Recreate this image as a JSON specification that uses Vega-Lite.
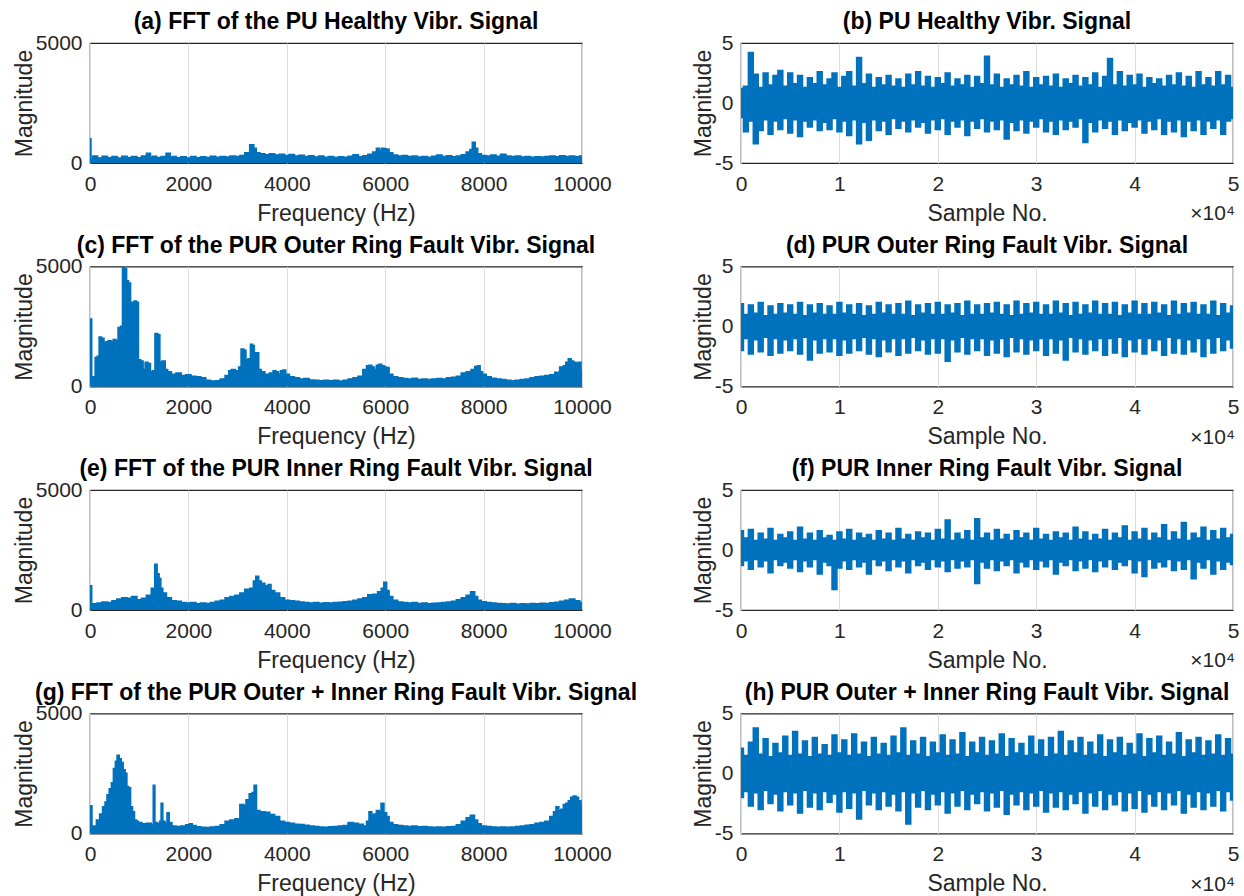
{
"$schema": "https://vega.github.io/schema/vega-lite/v6.json",
"background": "white",
"padding": {"left": 12, "top": 10, "right": 2, "bottom": 2},
"autosize": {"type": "pad"},
"columns": 2,
"spacing": {"row": 103.5, "column": 159},
"bounds": "flush",
"datasets": {
"ts": [
{"n":0,"bh":1.2,"bl":-1.2,"dh":1.9,"dl":-2.0,"fh":1.6,"fl":-1.3,"hh":2.1,"hl":-2.0},
{"n":500,"bh":1.4,"bl":-2.4,"dh":1.0,"dl":-1.0,"fh":1.0,"fl":-0.9,"hh":1.5,"hl":-1.5},
{"n":1000,"bh":4.2,"bl":-1.5,"dh":1.8,"dl":-2.3,"fh":1.7,"fl":-1.6,"hh":2.6,"hl":-2.7},
{"n":1500,"bh":2.4,"bl":-3.4,"dh":1.1,"dl":-1.1,"fh":0.8,"fl":-0.8,"hh":3.8,"hl":-1.6},
{"n":2000,"bh":1.3,"bl":-2.3,"dh":2.0,"dl":-2.1,"fh":1.4,"fl":-1.4,"hh":1.6,"hl":-3.0},
{"n":2500,"bh":2.5,"bl":-1.4,"dh":0.9,"dl":-0.9,"fh":0.9,"fl":-0.9,"hh":2.9,"hl":-1.4},
{"n":3000,"bh":1.5,"bl":-2.6,"dh":1.7,"dl":-2.4,"fh":1.8,"fl":-1.9,"hh":1.4,"hl":-2.5},
{"n":3500,"bh":2.3,"bl":-1.5,"dh":1.0,"dl":-1.0,"fh":0.8,"fl":-0.8,"hh":2.5,"hl":-1.7},
{"n":4000,"bh":2.7,"bl":-2.2,"dh":1.9,"dl":-2.2,"fh":1.3,"fl":-1.3,"hh":1.7,"hl":-3.1},
{"n":4500,"bh":1.4,"bl":-1.3,"dh":1.1,"dl":-1.1,"fh":1.0,"fl":-1.0,"hh":3.1,"hl":-1.5},
{"n":5000,"bh":2.5,"bl":-2.5,"dh":1.8,"dl":-2.0,"fh":1.5,"fl":-1.5,"hh":1.5,"hl":-2.6},
{"n":5500,"bh":1.6,"bl":-1.4,"dh":1.0,"dl":-1.0,"fh":0.8,"fl":-0.8,"hh":3.5,"hl":-1.6},
{"n":6000,"bh":2.3,"bl":-2.8,"dh":2.0,"dl":-2.3,"fh":1.9,"fl":-1.8,"hh":1.6,"hl":-3.3},
{"n":6500,"bh":1.3,"bl":-1.5,"dh":0.9,"dl":-0.9,"fh":0.9,"fl":-0.9,"hh":2.7,"hl":-1.4},
{"n":7000,"bh":2.1,"bl":-2.0,"dh":1.8,"dl":-2.8,"fh":1.4,"fl":-1.4,"hh":1.4,"hl":-2.8},
{"n":7500,"bh":1.6,"bl":-1.4,"dh":1.1,"dl":-1.1,"fh":0.8,"fl":-0.8,"hh":3.0,"hl":-1.6},
{"n":8000,"bh":2.6,"bl":-2.3,"dh":1.9,"dl":-2.2,"fh":1.6,"fl":-2.0,"hh":1.6,"hl":-3.0},
{"n":8500,"bh":1.5,"bl":-1.6,"dh":1.0,"dl":-1.0,"fh":1.0,"fl":-1.0,"hh":2.4,"hl":-1.5},
{"n":9000,"bh":2.0,"bl":-2.2,"dh":1.7,"dl":-2.1,"fh":1.2,"fl":-1.3,"hh":1.5,"hl":-2.4},
{"n":9500,"bh":2.5,"bl":-1.3,"dh":1.0,"dl":-1.0,"fh":0.8,"fl":-3.3,"hh":3.2,"hl":-1.7},
{"n":10000,"bh":1.3,"bl":-2.4,"dh":2.0,"dl":-2.4,"fh":1.5,"fl":-1.5,"hh":1.7,"hl":-3.2},
{"n":10500,"bh":2.2,"bl":-1.5,"dh":1.1,"dl":-1.1,"fh":0.9,"fl":-0.9,"hh":2.8,"hl":-1.5},
{"n":11000,"bh":2.6,"bl":-2.7,"dh":1.8,"dl":-2.2,"fh":1.7,"fl":-1.6,"hh":1.5,"hl":-2.9},
{"n":11500,"bh":1.4,"bl":-1.4,"dh":1.0,"dl":-1.0,"fh":0.8,"fl":-0.8,"hh":3.3,"hl":-1.6},
{"n":12000,"bh":3.8,"bl":-3.4,"dh":1.9,"dl":-2.0,"fh":1.4,"fl":-1.4,"hh":1.6,"hl":-3.8},
{"n":12500,"bh":1.6,"bl":-1.6,"dh":0.9,"dl":-0.9,"fh":1.0,"fl":-1.0,"hh":2.6,"hl":-1.4},
{"n":13000,"bh":2.4,"bl":-3.1,"dh":1.7,"dl":-2.3,"fh":1.3,"fl":-2.0,"hh":1.4,"hl":-2.6},
{"n":13500,"bh":1.3,"bl":-1.4,"dh":1.0,"dl":-1.0,"fh":0.8,"fl":-0.8,"hh":3.0,"hl":-1.6},
{"n":14000,"bh":2.1,"bl":-2.3,"dh":2.0,"dl":-2.5,"fh":1.6,"fl":-1.3,"hh":1.6,"hl":-3.0},
{"n":14500,"bh":1.5,"bl":-1.5,"dh":1.1,"dl":-1.1,"fh":0.9,"fl":-0.9,"hh":2.5,"hl":-1.5},
{"n":15000,"bh":2.3,"bl":-2.6,"dh":1.8,"dl":-2.1,"fh":1.4,"fl":-1.7,"hh":1.5,"hl":-2.7},
{"n":15500,"bh":1.4,"bl":-1.3,"dh":1.0,"dl":-1.0,"fh":0.8,"fl":-0.8,"hh":3.1,"hl":-1.7},
{"n":16000,"bh":2.0,"bl":-2.1,"dh":1.9,"dl":-2.4,"fh":1.8,"fl":-1.4,"hh":1.7,"hl":-3.1},
{"n":16500,"bh":1.3,"bl":-1.5,"dh":1.0,"dl":-1.0,"fh":0.9,"fl":-0.9,"hh":3.8,"hl":-1.5},
{"n":17000,"bh":2.4,"bl":-2.4,"dh":2.1,"dl":-2.2,"fh":1.3,"fl":-1.9,"hh":1.5,"hl":-4.2},
{"n":17500,"bh":1.5,"bl":-1.4,"dh":0.9,"dl":-0.9,"fh":0.8,"fl":-0.8,"hh":2.7,"hl":-1.6},
{"n":18000,"bh":2.6,"bl":-2.0,"dh":1.8,"dl":-2.0,"fh":1.5,"fl":-1.3,"hh":1.6,"hl":-2.8},
{"n":18500,"bh":1.4,"bl":-1.6,"dh":1.1,"dl":-1.1,"fh":1.0,"fl":-1.0,"hh":3.0,"hl":-1.4},
{"n":19000,"bh":2.2,"bl":-2.5,"dh":1.9,"dl":-2.3,"fh":1.4,"fl":-1.6,"hh":1.4,"hl":-3.0},
{"n":19500,"bh":1.3,"bl":-1.4,"dh":1.0,"dl":-1.0,"fh":0.8,"fl":-0.8,"hh":2.6,"hl":-1.7},
{"n":20000,"bh":2.1,"bl":-2.2,"dh":2.0,"dl":-2.2,"fh":1.7,"fl":-1.4,"hh":1.7,"hl":-2.6},
{"n":20500,"bh":1.6,"bl":-1.3,"dh":1.0,"dl":-1.0,"fh":0.9,"fl":-0.9,"hh":3.2,"hl":-1.5},
{"n":21000,"bh":2.5,"bl":-2.6,"dh":1.8,"dl":-2.9,"fh":2.5,"fl":-1.8,"hh":1.5,"hl":-3.3},
{"n":21500,"bh":1.4,"bl":-1.5,"dh":1.1,"dl":-1.1,"fh":0.8,"fl":-0.8,"hh":2.8,"hl":-1.6},
{"n":22000,"bh":2.0,"bl":-2.0,"dh":1.9,"dl":-2.1,"fh":1.4,"fl":-1.5,"hh":1.6,"hl":-2.7},
{"n":22500,"bh":1.5,"bl":-1.4,"dh":0.9,"dl":-0.9,"fh":0.9,"fl":-0.9,"hh":3.4,"hl":-1.4},
{"n":23000,"bh":2.3,"bl":-2.7,"dh":2.1,"dl":-2.3,"fh":1.6,"fl":-1.4,"hh":1.4,"hl":-3.0},
{"n":23500,"bh":1.3,"bl":-1.5,"dh":1.0,"dl":-1.0,"fh":0.8,"fl":-0.8,"hh":2.6,"hl":-1.7},
{"n":24000,"bh":2.2,"bl":-2.1,"dh":1.8,"dl":-2.0,"fh":2.6,"fl":-2.8,"hh":1.7,"hl":-2.5},
{"n":24500,"bh":1.6,"bl":-1.3,"dh":1.0,"dl":-1.0,"fh":1.0,"fl":-1.0,"hh":3.0,"hl":-1.5},
{"n":25000,"bh":3.9,"bl":-2.4,"dh":1.9,"dl":-2.4,"fh":1.4,"fl":-1.5,"hh":1.5,"hl":-3.1},
{"n":25500,"bh":1.5,"bl":-1.5,"dh":1.1,"dl":-1.1,"fh":0.8,"fl":-0.8,"hh":2.7,"hl":-1.6},
{"n":26000,"bh":2.4,"bl":-2.2,"dh":2.0,"dl":-2.2,"fh":1.7,"fl":-1.7,"hh":1.6,"hl":-2.8},
{"n":26500,"bh":1.3,"bl":-1.4,"dh":1.0,"dl":-1.0,"fh":0.9,"fl":-0.9,"hh":3.3,"hl":-1.4},
{"n":27000,"bh":2.0,"bl":-3.0,"dh":1.8,"dl":-2.5,"fh":1.3,"fl":-1.3,"hh":1.4,"hl":-3.4},
{"n":27500,"bh":1.5,"bl":-1.6,"dh":0.9,"dl":-0.9,"fh":0.8,"fl":-0.8,"hh":2.9,"hl":-1.7},
{"n":28000,"bh":2.3,"bl":-2.3,"dh":2.1,"dl":-2.1,"fh":1.6,"fl":-1.9,"hh":1.7,"hl":-2.6},
{"n":28500,"bh":1.4,"bl":-1.4,"dh":1.0,"dl":-1.0,"fh":1.0,"fl":-1.0,"hh":2.5,"hl":-1.5},
{"n":29000,"bh":2.6,"bl":-2.5,"dh":1.9,"dl":-2.3,"fh":1.4,"fl":-1.4,"hh":1.5,"hl":-3.0},
{"n":29500,"bh":1.3,"bl":-1.5,"dh":1.1,"dl":-1.1,"fh":0.8,"fl":-0.8,"hh":3.1,"hl":-1.6},
{"n":30000,"bh":2.1,"bl":-2.0,"dh":2.0,"dl":-2.0,"fh":1.8,"fl":-1.6,"hh":1.6,"hl":-2.7},
{"n":30500,"bh":1.5,"bl":-1.3,"dh":1.0,"dl":-1.0,"fh":0.9,"fl":-0.9,"hh":2.8,"hl":-1.4},
{"n":31000,"bh":2.2,"bl":-2.4,"dh":1.8,"dl":-2.4,"fh":1.3,"fl":-1.4,"hh":1.4,"hl":-3.2},
{"n":31500,"bh":1.4,"bl":-1.5,"dh":1.0,"dl":-1.0,"fh":0.8,"fl":-0.8,"hh":3.0,"hl":-1.6},
{"n":32000,"bh":2.4,"bl":-2.6,"dh":2.1,"dl":-2.2,"fh":1.5,"fl":-2.0,"hh":1.6,"hl":-2.8},
{"n":32500,"bh":1.3,"bl":-1.4,"dh":1.1,"dl":-1.1,"fh":1.0,"fl":-1.0,"hh":3.5,"hl":-1.5},
{"n":33000,"bh":2.0,"bl":-2.2,"dh":1.9,"dl":-2.8,"fh":1.4,"fl":-1.3,"hh":1.5,"hl":-3.0},
{"n":33500,"bh":1.6,"bl":-1.5,"dh":0.9,"dl":-0.9,"fh":0.8,"fl":-0.8,"hh":2.7,"hl":-1.7},
{"n":34000,"bh":2.3,"bl":-2.0,"dh":2.0,"dl":-2.1,"fh":1.9,"fl":-1.7,"hh":1.7,"hl":-2.5},
{"n":34500,"bh":1.4,"bl":-1.3,"dh":1.0,"dl":-1.0,"fh":0.9,"fl":-0.9,"hh":3.0,"hl":-1.5},
{"n":35000,"bh":2.1,"bl":-3.3,"dh":1.8,"dl":-2.3,"fh":1.5,"fl":-1.5,"hh":1.5,"hl":-3.3},
{"n":35500,"bh":1.5,"bl":-1.6,"dh":1.1,"dl":-1.1,"fh":0.8,"fl":-0.8,"hh":2.6,"hl":-1.6},
{"n":36000,"bh":2.5,"bl":-2.4,"dh":2.1,"dl":-2.0,"fh":1.3,"fl":-1.8,"hh":1.6,"hl":-2.7},
{"n":36500,"bh":1.3,"bl":-1.4,"dh":1.0,"dl":-1.0,"fh":0.9,"fl":-0.9,"hh":3.2,"hl":-1.4},
{"n":37000,"bh":2.2,"bl":-2.1,"dh":1.9,"dl":-2.4,"fh":1.7,"fl":-1.4,"hh":1.4,"hl":-3.0},
{"n":37500,"bh":3.7,"bl":-1.5,"dh":1.0,"dl":-1.0,"fh":0.8,"fl":-0.8,"hh":2.8,"hl":-1.7},
{"n":38000,"bh":1.5,"bl":-2.6,"dh":2.0,"dl":-2.2,"fh":1.4,"fl":-1.6,"hh":1.7,"hl":-2.6},
{"n":38500,"bh":2.6,"bl":-1.4,"dh":0.9,"dl":-0.9,"fh":1.0,"fl":-1.0,"hh":3.0,"hl":-1.5},
{"n":39000,"bh":1.4,"bl":-2.3,"dh":1.8,"dl":-2.5,"fh":2.0,"fl":-1.3,"hh":1.5,"hl":-3.1},
{"n":39500,"bh":2.3,"bl":-1.6,"dh":1.1,"dl":-1.1,"fh":0.8,"fl":-0.8,"hh":2.5,"hl":-1.6},
{"n":40000,"bh":1.5,"bl":-2.0,"dh":2.1,"dl":-2.1,"fh":1.5,"fl":-1.9,"hh":1.6,"hl":-2.9},
{"n":40500,"bh":2.4,"bl":-1.4,"dh":1.0,"dl":-1.0,"fh":0.9,"fl":-0.9,"hh":3.3,"hl":-1.4},
{"n":41000,"bh":1.3,"bl":-2.5,"dh":1.9,"dl":-2.3,"fh":1.8,"fl":-2.2,"hh":1.4,"hl":-3.2},
{"n":41500,"bh":2.1,"bl":-1.5,"dh":1.0,"dl":-1.0,"fh":0.8,"fl":-0.8,"hh":2.9,"hl":-1.7},
{"n":42000,"bh":1.6,"bl":-2.2,"dh":2.0,"dl":-2.0,"fh":1.4,"fl":-1.5,"hh":1.7,"hl":-2.7},
{"n":42500,"bh":2.0,"bl":-1.3,"dh":1.1,"dl":-1.1,"fh":1.0,"fl":-1.0,"hh":3.1,"hl":-1.5},
{"n":43000,"bh":1.4,"bl":-2.6,"dh":1.8,"dl":-2.4,"fh":2.1,"fl":-1.4,"hh":1.5,"hl":-3.0},
{"n":43500,"bh":2.3,"bl":-1.5,"dh":0.9,"dl":-0.9,"fh":0.8,"fl":-0.8,"hh":2.6,"hl":-1.6},
{"n":44000,"bh":1.5,"bl":-2.4,"dh":2.1,"dl":-2.2,"fh":1.5,"fl":-1.7,"hh":1.6,"hl":-2.6},
{"n":44500,"bh":2.5,"bl":-1.4,"dh":1.0,"dl":-1.0,"fh":0.9,"fl":-0.9,"hh":3.4,"hl":-1.4},
{"n":45000,"bh":1.4,"bl":-2.8,"dh":1.9,"dl":-2.3,"fh":2.3,"fl":-1.6,"hh":1.4,"hl":-3.3},
{"n":45500,"bh":2.2,"bl":-1.5,"dh":1.1,"dl":-1.1,"fh":0.8,"fl":-0.8,"hh":2.8,"hl":-1.7},
{"n":46000,"bh":1.3,"bl":-2.3,"dh":2.0,"dl":-2.1,"fh":1.4,"fl":-2.4,"hh":1.7,"hl":-2.8},
{"n":46500,"bh":2.6,"bl":-1.4,"dh":1.0,"dl":-1.0,"fh":1.0,"fl":-1.0,"hh":3.0,"hl":-1.5},
{"n":47000,"bh":1.5,"bl":-2.6,"dh":1.8,"dl":-2.5,"fh":1.9,"fl":-1.5,"hh":1.5,"hl":-3.0},
{"n":47500,"bh":2.1,"bl":-1.5,"dh":1.0,"dl":-1.0,"fh":0.8,"fl":-0.8,"hh":2.7,"hl":-1.6},
{"n":48000,"bh":1.4,"bl":-2.1,"dh":2.1,"dl":-2.2,"fh":1.6,"fl":-2.0,"hh":1.6,"hl":-2.7},
{"n":48500,"bh":2.6,"bl":-1.4,"dh":0.9,"dl":-0.9,"fh":0.9,"fl":-0.9,"hh":3.2,"hl":-1.4},
{"n":49000,"bh":1.5,"bl":-2.6,"dh":1.9,"dl":-2.0,"fh":1.8,"fl":-1.6,"hh":1.5,"hl":-3.1},
{"n":49500,"bh":2.3,"bl":-1.5,"dh":1.1,"dl":-1.1,"fh":1.0,"fl":-1.0,"hh":2.9,"hl":-1.5},
{"n":50000,"bh":1.3,"bl":-1.3,"dh":1.7,"dl":-1.8,"fh":1.3,"fl":-1.2,"hh":1.6,"hl":-2.2}
],
"fa": [
{"f":0,"m":1000},{"f":10,"m":1000},{"f":20,"m":150},{"f":100,"m":280},{"f":200,"m":200},{"f":300,"m":270},{"f":400,"m":210},{"f":500,"m":260},{"f":600,"m":200},{"f":700,"m":270},{"f":800,"m":220},{"f":900,"m":260},{"f":1000,"m":210},{"f":1100,"m":280},{"f":1200,"m":400},{"f":1250,"m":230},{"f":1300,"m":270},{"f":1400,"m":220},{"f":1500,"m":260},{"f":1600,"m":400},{"f":1650,"m":230},{"f":1700,"m":260},{"f":1800,"m":210},{"f":1900,"m":250},{"f":2000,"m":200},{"f":2100,"m":260},{"f":2200,"m":210},{"f":2300,"m":250},{"f":2400,"m":220},{"f":2500,"m":270},{"f":2600,"m":230},{"f":2700,"m":260},{"f":2800,"m":240},{"f":2900,"m":280},{"f":3000,"m":260},{"f":3100,"m":300},{"f":3200,"m":420},{"f":3300,"m":750},{"f":3350,"m":600},{"f":3400,"m":420},{"f":3500,"m":380},{"f":3600,"m":330},{"f":3700,"m":370},{"f":3800,"m":320},{"f":3900,"m":350},{"f":4000,"m":300},{"f":4100,"m":340},{"f":4200,"m":280},{"f":4300,"m":310},{"f":4400,"m":260},{"f":4500,"m":290},{"f":4600,"m":240},{"f":4700,"m":280},{"f":4800,"m":230},{"f":4900,"m":260},{"f":5000,"m":220},{"f":5100,"m":250},{"f":5200,"m":230},{"f":5300,"m":270},{"f":5400,"m":330},{"f":5500,"m":250},{"f":5600,"m":290},{"f":5700,"m":350},{"f":5800,"m":450},{"f":5850,"m":600},{"f":5900,"m":520},{"f":5950,"m":600},{"f":6000,"m":580},{"f":6050,"m":560},{"f":6100,"m":420},{"f":6200,"m":320},{"f":6300,"m":280},{"f":6400,"m":300},{"f":6500,"m":260},{"f":6600,"m":280},{"f":6700,"m":240},{"f":6800,"m":260},{"f":6900,"m":230},{"f":7000,"m":270},{"f":7100,"m":320},{"f":7200,"m":260},{"f":7300,"m":290},{"f":7400,"m":250},{"f":7500,"m":280},{"f":7600,"m":330},{"f":7700,"m":450},{"f":7750,"m":550},{"f":7800,"m":850},{"f":7850,"m":600},{"f":7900,"m":380},{"f":8000,"m":300},{"f":8100,"m":280},{"f":8200,"m":320},{"f":8300,"m":270},{"f":8400,"m":350},{"f":8500,"m":280},{"f":8600,"m":260},{"f":8700,"m":280},{"f":8800,"m":240},{"f":8900,"m":260},{"f":9000,"m":230},{"f":9100,"m":250},{"f":9200,"m":240},{"f":9300,"m":260},{"f":9400,"m":280},{"f":9500,"m":250},{"f":9600,"m":290},{"f":9700,"m":260},{"f":9800,"m":280},{"f":9900,"m":250},{"f":10000,"m":280}
],
"fc": [
{"f":0,"m":2800},{"f":20,"m":2800},{"f":40,"m":400},{"f":100,"m":350},{"f":120,"m":1200},{"f":180,"m":1250},{"f":200,"m":2050},{"f":260,"m":2000},{"f":300,"m":1800},{"f":350,"m":1850},{"f":400,"m":1900},{"f":450,"m":1850},{"f":500,"m":1950},{"f":550,"m":1900},{"f":600,"m":2450},{"f":650,"m":2500},{"f":680,"m":4950},{"f":720,"m":4900},{"f":760,"m":4400},{"f":800,"m":4300},{"f":840,"m":3500},{"f":880,"m":3450},{"f":920,"m":3550},{"f":960,"m":3500},{"f":1000,"m":1100},{"f":1050,"m":1050},{"f":1100,"m":700},{"f":1150,"m":1000},{"f":1200,"m":950},{"f":1250,"m":600},{"f":1300,"m":650},{"f":1350,"m":2200},{"f":1400,"m":2150},{"f":1430,"m":1000},{"f":1500,"m":1050},{"f":1550,"m":700},{"f":1600,"m":600},{"f":1700,"m":500},{"f":1800,"m":550},{"f":1900,"m":450},{"f":2000,"m":480},{"f":2100,"m":420},{"f":2200,"m":400},{"f":2300,"m":350},{"f":2400,"m":250},{"f":2500,"m":220},{"f":2600,"m":230},{"f":2700,"m":300},{"f":2800,"m":450},{"f":2850,"m":650},{"f":2900,"m":700},{"f":3000,"m":650},{"f":3050,"m":800},{"f":3100,"m":1550},{"f":3150,"m":1500},{"f":3180,"m":1100},{"f":3250,"m":1150},{"f":3280,"m":1750},{"f":3320,"m":1700},{"f":3350,"m":1350},{"f":3400,"m":1400},{"f":3450,"m":700},{"f":3500,"m":600},{"f":3600,"m":500},{"f":3700,"m":550},{"f":3750,"m":650},{"f":3800,"m":600},{"f":3850,"m":500},{"f":3900,"m":650},{"f":3950,"m":680},{"f":4000,"m":500},{"f":4100,"m":400},{"f":4200,"m":350},{"f":4300,"m":300},{"f":4400,"m":320},{"f":4500,"m":260},{"f":4600,"m":250},{"f":4700,"m":230},{"f":4800,"m":250},{"f":4900,"m":230},{"f":5000,"m":250},{"f":5100,"m":220},{"f":5200,"m":250},{"f":5300,"m":300},{"f":5400,"m":350},{"f":5500,"m":420},{"f":5600,"m":700},{"f":5650,"m":850},{"f":5700,"m":880},{"f":5750,"m":800},{"f":5800,"m":700},{"f":5850,"m":880},{"f":5900,"m":920},{"f":5950,"m":850},{"f":6000,"m":800},{"f":6050,"m":780},{"f":6100,"m":500},{"f":6200,"m":400},{"f":6300,"m":350},{"f":6400,"m":320},{"f":6500,"m":300},{"f":6600,"m":330},{"f":6700,"m":280},{"f":6800,"m":300},{"f":6900,"m":280},{"f":7000,"m":300},{"f":7100,"m":320},{"f":7200,"m":300},{"f":7300,"m":350},{"f":7400,"m":380},{"f":7500,"m":420},{"f":7600,"m":550},{"f":7700,"m":600},{"f":7800,"m":700},{"f":7850,"m":820},{"f":7900,"m":850},{"f":7950,"m":600},{"f":8000,"m":500},{"f":8100,"m":400},{"f":8200,"m":330},{"f":8300,"m":300},{"f":8400,"m":280},{"f":8500,"m":250},{"f":8600,"m":230},{"f":8700,"m":250},{"f":8800,"m":280},{"f":8900,"m":300},{"f":9000,"m":350},{"f":9100,"m":400},{"f":9200,"m":420},{"f":9300,"m":450},{"f":9400,"m":480},{"f":9500,"m":580},{"f":9600,"m":800},{"f":9650,"m":850},{"f":9700,"m":1000},{"f":9750,"m":1150},{"f":9800,"m":1050},{"f":9850,"m":1000},{"f":9900,"m":950},{"f":9950,"m":1000},{"f":10000,"m":650}
],
"fe": [
{"f":0,"m":1000},{"f":20,"m":1000},{"f":40,"m":200},{"f":100,"m":250},{"f":200,"m":280},{"f":300,"m":320},{"f":400,"m":300},{"f":500,"m":380},{"f":600,"m":450},{"f":700,"m":500},{"f":800,"m":480},{"f":900,"m":550},{"f":1000,"m":420},{"f":1100,"m":480},{"f":1200,"m":600},{"f":1300,"m":900},{"f":1340,"m":1900},{"f":1380,"m":1500},{"f":1420,"m":1300},{"f":1450,"m":900},{"f":1500,"m":700},{"f":1600,"m":500},{"f":1700,"m":380},{"f":1800,"m":350},{"f":1900,"m":300},{"f":2000,"m":280},{"f":2100,"m":300},{"f":2200,"m":250},{"f":2300,"m":280},{"f":2400,"m":260},{"f":2500,"m":300},{"f":2600,"m":350},{"f":2700,"m":400},{"f":2800,"m":500},{"f":2900,"m":550},{"f":3000,"m":600},{"f":3100,"m":700},{"f":3200,"m":850},{"f":3300,"m":900},{"f":3350,"m":1200},{"f":3400,"m":1400},{"f":3450,"m":1200},{"f":3500,"m":1100},{"f":3600,"m":1000},{"f":3650,"m":1050},{"f":3700,"m":800},{"f":3800,"m":700},{"f":3900,"m":500},{"f":4000,"m":400},{"f":4100,"m":380},{"f":4200,"m":350},{"f":4300,"m":320},{"f":4400,"m":300},{"f":4500,"m":280},{"f":4600,"m":300},{"f":4700,"m":270},{"f":4800,"m":290},{"f":4900,"m":280},{"f":5000,"m":300},{"f":5100,"m":310},{"f":5200,"m":330},{"f":5300,"m":350},{"f":5400,"m":400},{"f":5500,"m":450},{"f":5600,"m":500},{"f":5700,"m":620},{"f":5800,"m":650},{"f":5900,"m":750},{"f":5950,"m":900},{"f":6000,"m":1150},{"f":6050,"m":800},{"f":6100,"m":550},{"f":6200,"m":400},{"f":6300,"m":320},{"f":6400,"m":300},{"f":6500,"m":280},{"f":6600,"m":300},{"f":6700,"m":260},{"f":6800,"m":280},{"f":6900,"m":250},{"f":7000,"m":270},{"f":7100,"m":280},{"f":7200,"m":300},{"f":7300,"m":320},{"f":7400,"m":350},{"f":7500,"m":420},{"f":7600,"m":500},{"f":7700,"m":600},{"f":7780,"m":750},{"f":7850,"m":550},{"f":7900,"m":400},{"f":8000,"m":330},{"f":8100,"m":300},{"f":8200,"m":280},{"f":8300,"m":260},{"f":8400,"m":250},{"f":8500,"m":240},{"f":8600,"m":260},{"f":8700,"m":230},{"f":8800,"m":250},{"f":8900,"m":240},{"f":9000,"m":260},{"f":9100,"m":250},{"f":9200,"m":270},{"f":9300,"m":260},{"f":9400,"m":290},{"f":9500,"m":310},{"f":9600,"m":350},{"f":9700,"m":400},{"f":9800,"m":450},{"f":9900,"m":380},{"f":10000,"m":300}
],
"fg": [
{"f":0,"m":1150},{"f":20,"m":1150},{"f":50,"m":250},{"f":100,"m":300},{"f":170,"m":550},{"f":230,"m":800},{"f":290,"m":1100},{"f":330,"m":1300},{"f":370,"m":1600},{"f":420,"m":1850},{"f":460,"m":2100},{"f":500,"m":2700},{"f":540,"m":3000},{"f":570,"m":3250},{"f":610,"m":3100},{"f":650,"m":2950},{"f":690,"m":2650},{"f":730,"m":2500},{"f":760,"m":1950},{"f":800,"m":1900},{"f":840,"m":1100},{"f":880,"m":900},{"f":920,"m":550},{"f":960,"m":500},{"f":1000,"m":450},{"f":1100,"m":400},{"f":1200,"m":420},{"f":1280,"m":350},{"f":1300,"m":2000},{"f":1330,"m":450},{"f":1400,"m":400},{"f":1440,"m":500},{"f":1460,"m":1250},{"f":1490,"m":500},{"f":1550,"m":420},{"f":1590,"m":850},{"f":1620,"m":450},{"f":1700,"m":300},{"f":1800,"m":280},{"f":1900,"m":300},{"f":2000,"m":350},{"f":2050,"m":400},{"f":2100,"m":320},{"f":2200,"m":270},{"f":2300,"m":250},{"f":2400,"m":240},{"f":2500,"m":260},{"f":2600,"m":280},{"f":2700,"m":350},{"f":2800,"m":500},{"f":2900,"m":550},{"f":3000,"m":600},{"f":3100,"m":1200},{"f":3150,"m":1150},{"f":3200,"m":1400},{"f":3280,"m":1650},{"f":3320,"m":1700},{"f":3360,"m":2000},{"f":3400,"m":950},{"f":3500,"m":900},{"f":3600,"m":880},{"f":3700,"m":780},{"f":3800,"m":700},{"f":3900,"m":500},{"f":4000,"m":450},{"f":4100,"m":420},{"f":4200,"m":380},{"f":4300,"m":360},{"f":4400,"m":330},{"f":4500,"m":300},{"f":4600,"m":280},{"f":4700,"m":260},{"f":4800,"m":250},{"f":4900,"m":270},{"f":5000,"m":280},{"f":5100,"m":300},{"f":5200,"m":320},{"f":5300,"m":450},{"f":5400,"m":420},{"f":5500,"m":380},{"f":5600,"m":300},{"f":5650,"m":500},{"f":5700,"m":900},{"f":5750,"m":750},{"f":5800,"m":800},{"f":5850,"m":950},{"f":5900,"m":900},{"f":5940,"m":1250},{"f":6000,"m":850},{"f":6050,"m":700},{"f":6100,"m":450},{"f":6200,"m":350},{"f":6300,"m":320},{"f":6400,"m":300},{"f":6500,"m":280},{"f":6600,"m":300},{"f":6700,"m":270},{"f":6800,"m":280},{"f":6900,"m":260},{"f":7000,"m":250},{"f":7100,"m":260},{"f":7200,"m":250},{"f":7300,"m":270},{"f":7400,"m":280},{"f":7500,"m":350},{"f":7600,"m":500},{"f":7700,"m":650},{"f":7770,"m":750},{"f":7850,"m":550},{"f":7900,"m":400},{"f":8000,"m":300},{"f":8100,"m":280},{"f":8200,"m":260},{"f":8300,"m":250},{"f":8400,"m":260},{"f":8500,"m":250},{"f":8600,"m":260},{"f":8700,"m":280},{"f":8800,"m":300},{"f":8900,"m":330},{"f":9000,"m":350},{"f":9100,"m":420},{"f":9200,"m":450},{"f":9300,"m":500},{"f":9400,"m":700},{"f":9450,"m":900},{"f":9500,"m":1100},{"f":9550,"m":950},{"f":9600,"m":1000},{"f":9650,"m":1200},{"f":9700,"m":1250},{"f":9750,"m":1350},{"f":9800,"m":1500},{"f":9850,"m":1550},{"f":9900,"m":1500},{"f":9950,"m":1350},{"f":10000,"m":1100}
]
},
"concat": [
{"width":492,"height":120,"title":"(a) FFT of the PU Healthy Vibr. Signal","data":{"name":"fa"},
 "mark":{"type":"area","interpolate":"step","color":"#0072BD","stroke":"#0072BD","strokeWidth":2,"clip":true},
 "encoding":{"x":{"field":"f","type":"quantitative","scale":{"domain":[0,10000],"nice":false},"axis":{"title":"Frequency (Hz)","values":[0,2000,4000,6000,8000,10000],"labelExpr":"'' + datum.value","grid":true}},
  "y":{"field":"m","type":"quantitative","scale":{"domain":[0,5000],"nice":false},"axis":{"title":"Magnitude","values":[0,5000],"labelExpr":"'' + datum.value"}}}},
{"width":492,"height":120,"title":"(b) PU Healthy Vibr. Signal","layer":[
 {"data":{"name":"ts"},"mark":{"type":"area","interpolate":"step","color":"#0072BD","stroke":"#0072BD","strokeWidth":1.5,"clip":true},
  "encoding":{"x":{"field":"n","type":"quantitative","scale":{"domain":[0,50000],"nice":false},"axis":{"title":"Sample No.","values":[0,10000,20000,30000,40000,50000],"labelExpr":"'' + (datum.value/10000)","grid":true}},
   "y":{"field":"bh","type":"quantitative","scale":{"domain":[-5,5],"nice":false},"axis":{"title":"Magnitude","values":[-5,0,5],"labelExpr":"'' + datum.value"}},"y2":{"field":"bl"}}},
 {"data":{"values":[{"t":"×10⁴"}]},"mark":{"type":"text","align":"right","baseline":"top","dy":40,"dx":2,"fontSize":21,"color":"#262626"},
  "encoding":{"text":{"field":"t"},"x":{"datum":50000,"type":"quantitative"},"y":{"datum":-5,"type":"quantitative"}}}]},
{"width":492,"height":120,"title":"(c) FFT of the PUR Outer Ring Fault Vibr. Signal","data":{"name":"fc"},
 "mark":{"type":"area","interpolate":"step","color":"#0072BD","stroke":"#0072BD","strokeWidth":2,"clip":true},
 "encoding":{"x":{"field":"f","type":"quantitative","scale":{"domain":[0,10000],"nice":false},"axis":{"title":"Frequency (Hz)","values":[0,2000,4000,6000,8000,10000],"labelExpr":"'' + datum.value","grid":true}},
  "y":{"field":"m","type":"quantitative","scale":{"domain":[0,5000],"nice":false},"axis":{"title":"Magnitude","values":[0,5000],"labelExpr":"'' + datum.value"}}}},
{"width":492,"height":120,"title":"(d) PUR Outer Ring Fault Vibr. Signal","layer":[
 {"data":{"name":"ts"},"mark":{"type":"area","interpolate":"step","color":"#0072BD","stroke":"#0072BD","strokeWidth":1.5,"clip":true},
  "encoding":{"x":{"field":"n","type":"quantitative","scale":{"domain":[0,50000],"nice":false},"axis":{"title":"Sample No.","values":[0,10000,20000,30000,40000,50000],"labelExpr":"'' + (datum.value/10000)","grid":true}},
   "y":{"field":"dh","type":"quantitative","scale":{"domain":[-5,5],"nice":false},"axis":{"title":"Magnitude","values":[-5,0,5],"labelExpr":"'' + datum.value"}},"y2":{"field":"dl"}}},
 {"data":{"values":[{"t":"×10⁴"}]},"mark":{"type":"text","align":"right","baseline":"top","dy":40,"dx":2,"fontSize":21,"color":"#262626"},
  "encoding":{"text":{"field":"t"},"x":{"datum":50000,"type":"quantitative"},"y":{"datum":-5,"type":"quantitative"}}}]},
{"width":492,"height":120,"title":"(e) FFT of the PUR Inner Ring Fault Vibr. Signal","data":{"name":"fe"},
 "mark":{"type":"area","interpolate":"step","color":"#0072BD","stroke":"#0072BD","strokeWidth":2,"clip":true},
 "encoding":{"x":{"field":"f","type":"quantitative","scale":{"domain":[0,10000],"nice":false},"axis":{"title":"Frequency (Hz)","values":[0,2000,4000,6000,8000,10000],"labelExpr":"'' + datum.value","grid":true}},
  "y":{"field":"m","type":"quantitative","scale":{"domain":[0,5000],"nice":false},"axis":{"title":"Magnitude","values":[0,5000],"labelExpr":"'' + datum.value"}}}},
{"width":492,"height":120,"title":"(f) PUR Inner Ring Fault Vibr. Signal","layer":[
 {"data":{"name":"ts"},"mark":{"type":"area","interpolate":"step","color":"#0072BD","stroke":"#0072BD","strokeWidth":1.5,"clip":true},
  "encoding":{"x":{"field":"n","type":"quantitative","scale":{"domain":[0,50000],"nice":false},"axis":{"title":"Sample No.","values":[0,10000,20000,30000,40000,50000],"labelExpr":"'' + (datum.value/10000)","grid":true}},
   "y":{"field":"fh","type":"quantitative","scale":{"domain":[-5,5],"nice":false},"axis":{"title":"Magnitude","values":[-5,0,5],"labelExpr":"'' + datum.value"}},"y2":{"field":"fl"}}},
 {"data":{"values":[{"t":"×10⁴"}]},"mark":{"type":"text","align":"right","baseline":"top","dy":40,"dx":2,"fontSize":21,"color":"#262626"},
  "encoding":{"text":{"field":"t"},"x":{"datum":50000,"type":"quantitative"},"y":{"datum":-5,"type":"quantitative"}}}]},
{"width":492,"height":120,"title":"(g) FFT of the PUR Outer + Inner Ring Fault Vibr. Signal","data":{"name":"fg"},
 "mark":{"type":"area","interpolate":"step","color":"#0072BD","stroke":"#0072BD","strokeWidth":2,"clip":true},
 "encoding":{"x":{"field":"f","type":"quantitative","scale":{"domain":[0,10000],"nice":false},"axis":{"title":"Frequency (Hz)","values":[0,2000,4000,6000,8000,10000],"labelExpr":"'' + datum.value","grid":true}},
  "y":{"field":"m","type":"quantitative","scale":{"domain":[0,5000],"nice":false},"axis":{"title":"Magnitude","values":[0,5000],"labelExpr":"'' + datum.value"}}}},
{"width":492,"height":120,"title":"(h) PUR Outer + Inner Ring Fault Vibr. Signal","layer":[
 {"data":{"name":"ts"},"mark":{"type":"area","interpolate":"step","color":"#0072BD","stroke":"#0072BD","strokeWidth":1.5,"clip":true},
  "encoding":{"x":{"field":"n","type":"quantitative","scale":{"domain":[0,50000],"nice":false},"axis":{"title":"Sample No.","values":[0,10000,20000,30000,40000,50000],"labelExpr":"'' + (datum.value/10000)","grid":true}},
   "y":{"field":"hh","type":"quantitative","scale":{"domain":[-5,5],"nice":false},"axis":{"title":"Magnitude","values":[-5,0,5],"labelExpr":"'' + datum.value"}},"y2":{"field":"hl"}}},
 {"data":{"values":[{"t":"×10⁴"}]},"mark":{"type":"text","align":"right","baseline":"top","dy":40,"dx":2,"fontSize":21,"color":"#262626"},
  "encoding":{"text":{"field":"t"},"x":{"datum":50000,"type":"quantitative"},"y":{"datum":-5,"type":"quantitative"}}}]}
],
"config": {
 "font": "Liberation Sans",
 "view": {"stroke": "#262626", "strokeWidth": 1.2},
 "axis": {"domain": false, "ticks": false, "tickSize": 0, "grid": false, "gridColor": "#dcdcdc", "gridWidth": 1,
  "labelFont": "Liberation Sans", "labelFontSize": 21, "labelColor": "#262626", "labelPadding": 8, "labelFlush": false, "labelOverlap": false,
  "titleFont": "Liberation Sans", "titleFontSize": 23, "titleFontWeight": "normal", "titleColor": "#262626", "titlePadding": 8},
 "axisX": {"labelPadding": 10, "titlePadding": 8},
 "axisY": {"labelPadding": 8, "titlePadding": -1},
 "title": {"font": "Liberation Sans", "fontSize": 23, "fontWeight": "bold", "color": "#000000", "offset": -2}
}
}
